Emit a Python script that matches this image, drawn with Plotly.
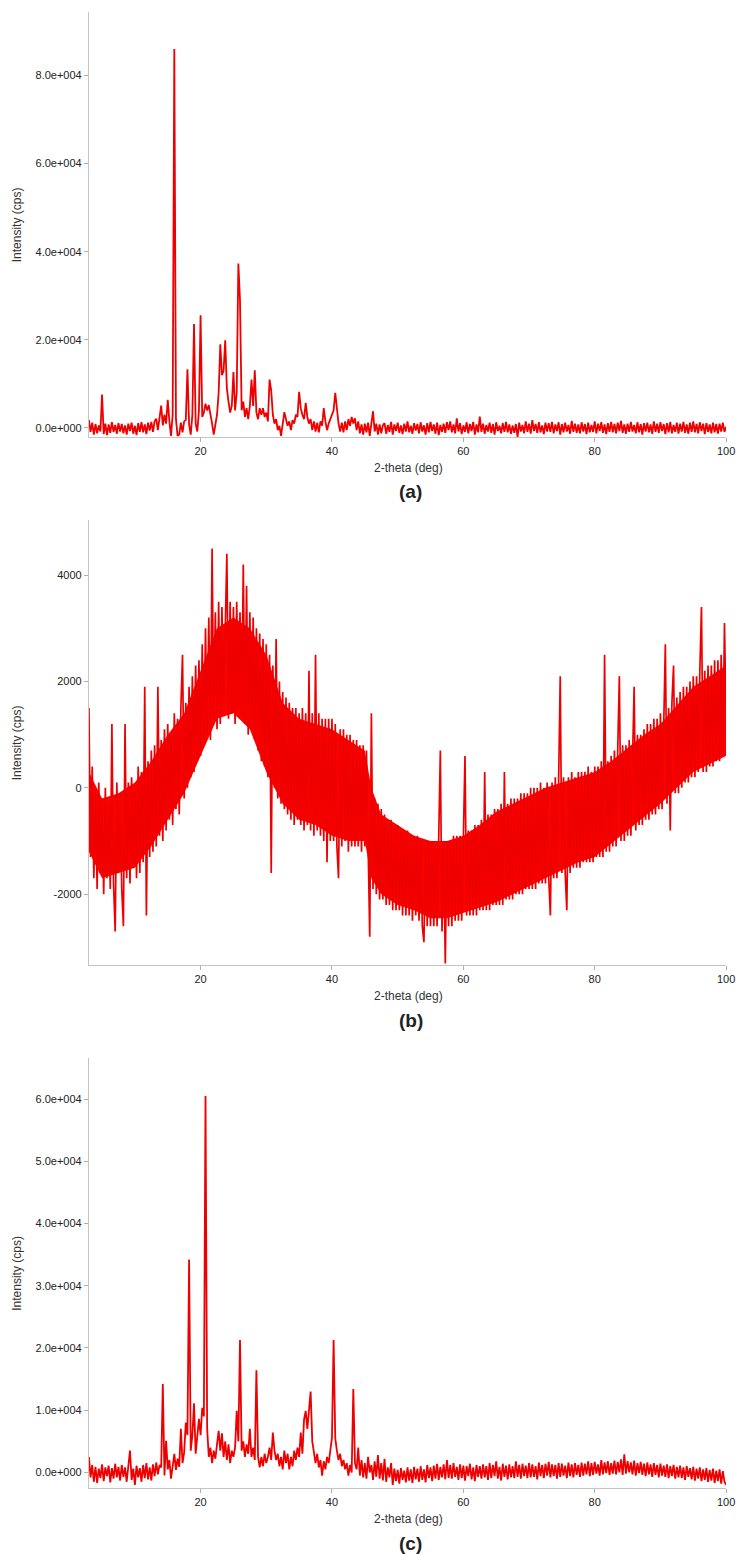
import plotly.graph_objects as go

# 2-theta sampling (deg), shared by the three scans
two_theta = [
    3.0, 3.25, 3.5, 3.75, 4.0, 4.25, 4.5, 4.75, 5.0, 5.25, 5.5, 5.75, 6.0, 6.25, 6.5, 6.75, 7.0, 7.25, 7.5, 7.75,
    8.0, 8.25, 8.5, 8.75, 9.0, 9.25, 9.5, 9.75, 10.0, 10.25, 10.5, 10.75, 11.0, 11.25, 11.5, 11.75, 12.0, 12.25, 12.5, 12.75,
    13.0, 13.25, 13.5, 13.75, 14.0, 14.25, 14.5, 14.75, 15.0, 15.25, 15.5, 15.75, 16.0, 16.25, 16.5, 16.75, 17.0, 17.25, 17.5, 17.75,
    18.0, 18.25, 18.5, 18.75, 19.0, 19.25, 19.5, 19.75, 20.0, 20.25, 20.5, 20.75, 21.0, 21.25, 21.5, 21.75, 22.0, 22.25, 22.5, 22.75,
    23.0, 23.25, 23.5, 23.75, 24.0, 24.25, 24.5, 24.75, 25.0, 25.25, 25.5, 25.75, 26.0, 26.25, 26.5, 26.75, 27.0, 27.25, 27.5, 27.75,
    28.0, 28.25, 28.5, 28.75, 29.0, 29.25, 29.5, 29.75, 30.0, 30.25, 30.5, 30.75, 31.0, 31.25, 31.5, 31.75, 32.0, 32.25, 32.5, 32.75,
    33.0, 33.25, 33.5, 33.75, 34.0, 34.25, 34.5, 34.75, 35.0, 35.25, 35.5, 35.75, 36.0, 36.25, 36.5, 36.75, 37.0, 37.25, 37.5, 37.75,
    38.0, 38.25, 38.5, 38.75, 39.0, 39.25, 39.5, 39.75, 40.0, 40.25, 40.5, 40.75, 41.0, 41.25, 41.5, 41.75, 42.0, 42.25, 42.5, 42.75,
    43.0, 43.25, 43.5, 43.75, 44.0, 44.25, 44.5, 44.75, 45.0, 45.25, 45.5, 45.75, 46.0, 46.25, 46.5, 46.75, 47.0, 47.25, 47.5, 47.75,
    48.0, 48.25, 48.5, 48.75, 49.0, 49.25, 49.5, 49.75, 50.0, 50.25, 50.5, 50.75, 51.0, 51.25, 51.5, 51.75, 52.0, 52.25, 52.5, 52.75,
    53.0, 53.25, 53.5, 53.75, 54.0, 54.25, 54.5, 54.75, 55.0, 55.25, 55.5, 55.75, 56.0, 56.25, 56.5, 56.75, 57.0, 57.25, 57.5, 57.75,
    58.0, 58.25, 58.5, 58.75, 59.0, 59.25, 59.5, 59.75, 60.0, 60.25, 60.5, 60.75, 61.0, 61.25, 61.5, 61.75, 62.0, 62.25, 62.5, 62.75,
    63.0, 63.25, 63.5, 63.75, 64.0, 64.25, 64.5, 64.75, 65.0, 65.25, 65.5, 65.75, 66.0, 66.25, 66.5, 66.75, 67.0, 67.25, 67.5, 67.75,
    68.0, 68.25, 68.5, 68.75, 69.0, 69.25, 69.5, 69.75, 70.0, 70.25, 70.5, 70.75, 71.0, 71.25, 71.5, 71.75, 72.0, 72.25, 72.5, 72.75,
    73.0, 73.25, 73.5, 73.75, 74.0, 74.25, 74.5, 74.75, 75.0, 75.25, 75.5, 75.75, 76.0, 76.25, 76.5, 76.75, 77.0, 77.25, 77.5, 77.75,
    78.0, 78.25, 78.5, 78.75, 79.0, 79.25, 79.5, 79.75, 80.0, 80.25, 80.5, 80.75, 81.0, 81.25, 81.5, 81.75, 82.0, 82.25, 82.5, 82.75,
    83.0, 83.25, 83.5, 83.75, 84.0, 84.25, 84.5, 84.75, 85.0, 85.25, 85.5, 85.75, 86.0, 86.25, 86.5, 86.75, 87.0, 87.25, 87.5, 87.75,
    88.0, 88.25, 88.5, 88.75, 89.0, 89.25, 89.5, 89.75, 90.0, 90.25, 90.5, 90.75, 91.0, 91.25, 91.5, 91.75, 92.0, 92.25, 92.5, 92.75,
    93.0, 93.25, 93.5, 93.75, 94.0, 94.25, 94.5, 94.75, 95.0, 95.25, 95.5, 95.75, 96.0, 96.25, 96.5, 96.75, 97.0, 97.25, 97.5, 97.75,
    98.0, 98.25, 98.5, 98.75, 99.0, 99.25, 99.5, 99.75, 100.0,
]

# (a) intensity (cps)
cps_a = [
    1800, -900, 1200, -1500, 900, -1200, 600, -800, 7600, -1400, 1000, -1600, 800, -1100, 1300, -900, 700, -1300, 1100, -800,
    900, -1200, 600, -1500, 1000, -700, 1200, -1300, 500, -1600, 1100, -900, 1300, -1000, 800, -1400, 1200, -600, 1400, -900,
    1500, 2100, -500, 1800, 5100, 600, 3000, 1000, 6400, 1500, -1800, 3000, 86000, 2000, -1800, -1500, 1200, -1000, 1500, 1800,
    13300, 800, -1500, 3000, 23600, 1000, -800, 4000, 25600, 2500, 3500, 5500, 4000, 5200, 2500, 1000, -1500, 500, 3000, 8000,
    19000, 12000, 13000, 19900, 9000, 6000, 3500, 5000, 12700, 4000, 8000, 37300, 29000, 4000, 6000, 2500, 4500, 2000, 5000, 11000,
    5000, 13100, 3500, 2000, 4500, 3000, 4500, 2500, 3500, 1500, 11000, 8500, 3000, 1000, 2000, -500, 500, -1800, 1500, 3600,
    2000, 500, 1500, -500, 1800, 1000, 3000, 2500, 8200, 4500, 3000, 2000, 5700, 2500, 1000, 2000, -500, 1500, -800, 1200,
    -1000, 1500, 500, 4500, 1500, -500, 1000, 2000, 3000, 4000, 8000, 3500, 1000, -800, 1200, -1000, 1500, -500, 2000, 500,
    2500, 1000, 2200, -500, 1500, -1200, 800, -1500, 1000, -1000, 1200, -1800, 900, 3800, -800, 1000, -1500, 800, -1200, 600,
    1100, -1300, 700, -900, 1400, -1500, 800, -700, 1200, -1100, 600, -1400, 1000, -800, 1500, -1000, 500, -1300, 1100, -600,
    900, -1200, 1300, -800, 600, -1500, 1100, -1000, 1400, -700, 800, -1300, 1200, -1600, 700, -900, 1000, -1100, 1300, -500,
    1500, -1000, 800, -1200, 2200, -800, 1100, -1400, 600, -900, 1300, -1200, 900, -700, 1400, -1500, 800, -1000, 2600, -900,
    1000, -1300, 700, -800, 1200, -1100, 900, -1500, 1300, -700, 500, -1200, 1100, -900, 1400, -1000, 800, -1300, 600, -1100,
    900, -2000, 1200, -800, 700, -1200, 1500, -900, 1000, -1300, 1800, -700, 900, -1100, 1300, -1000, 600, -1400, 1200, -800,
    1100, -900, 1400, -1200, 800, -700, 1300, -1500, 900, -1000, 1200, -800, 700, -1300, 1600, -900, 1000, -1100, 800, -1200,
    1300, -800, 900, -1400, 1200, -1000, 700, -900, 1500, -1200, 1000, -700, 1300, -1100, 800, -1400, 1100, -900, 1400, -1000,
    900, -1200, 1200, -700, 1600, -1100, 800, -1300, 1000, -900, 1400, -800, 700, -1200, 1300, -1000, 900, -1500, 1100, -800,
    1200, -1000, 800, -1300, 1500, -900, 1000, -1100, 1300, -700, 900, -1400, 1100, -1000, 1400, -1200, 700, -900, 1200, -1300,
    1000, -800, 1400, -1100, 800, -1300, 1200, -900, 1500, -1000, 900, -1200, 1300, -700, 1000, -1400, 1100, -900, 800, -1200,
    1200, -1000, 900, -1300, 1000, -800, 1200, -900, 300,
]

# (b) intensity (cps)
cps_b = [
    1500, -1300, 400, -1700, -100, -1900, 100, -1600, -200, -2000, 0, -1700, -300, -1900, 1200, -1800, -2700, 100, -1600, -100,
    -1900, -2600, 1200, -1700, 100, -1800, 200, -1500, 0, -1700, 400, -1600, 300, -1400, 1900, -2400, 500, -1300, 700, -1200,
    800, -1100, 1900, -900, 900, -1000, 1100, -800, 1200, -600, 1000, -700, 1400, -400, 1300, -500, 1500, 2500, -200, 1600,
    0, 1900, 200, 2100, 300, 2300, 500, 2400, 600, 2700, 800, 3000, 1000, 3200, 900, 4500, 1300, 3300, 1100, 3500,
    1200, 3400, 1500, 3300, 4400, 1300, 3500, 1400, 3400, 1200, 3500, 1500, 3300, 1300, 4200, 1200, 3800, 1000, 3300, 1100,
    3200, 900, 3000, 700, 2900, 500, 2800, 400, 2700, 200, 2500, -1600, 2300, 0, 2800, -200, 2000, -300, 1800, -400,
    1700, -500, 1600, -600, 1500, -700, 1500, -600, 1400, -700, 1500, -800, 1400, -700, 2200, -800, 1400, -900, 2500, -800,
    1400, -900, 1300, -1000, 1300, -1400, 1300, -1000, 1300, -1000, 1200, -1100, -1700, 1100, -1100, 1100, -1000, 1000, -1200, 1000,
    -1100, 900, -1100, 900, -1100, 800, -1200, 800, -1100, 700, -1300, -2800, 1400, -1900, -200, -2000, -300, -2100, -400, -2100,
    -500, -2200, -600, -2200, -600, -2300, -700, -2300, -700, -2300, -800, -2400, -800, -2400, -800, -2400, -900, -2500, -900, -2400,
    -900, -2500, -1000, -2600, -2900, -1000, -2600, -1000, -2600, -1000, -2600, -1100, -2600, -1000, 700, -2700, -1000, -3300, -1000, -2600,
    -1000, -2600, -900, -2500, -900, -2500, -900, -2500, -900, 600, -2400, -800, -2400, -800, -2400, -700, -2400, -700, -2300, -600,
    -2300, 300, -2300, -500, -2300, -500, -2200, -400, -2200, -400, -2200, -300, -2200, 300, -2100, -300, -2100, -200, -2100, -200,
    -2000, -200, -2000, -100, -2000, -100, -1900, -100, -1900, 0, -1900, 0, -1900, 0, -1800, 100, -1800, 0, -1800, 100,
    -1700, -2400, 100, -1700, 200, -1700, 100, 2100, -1600, 200, -1600, -2300, 200, -1600, 300, -1500, 200, -1500, 300, -1500,
    300, -1400, 300, -1400, 400, -1400, 300, -1400, 400, -1300, 400, -1300, 500, -1300, 2500, -1200, 500, -1200, 600, -1100,
    700, -1100, 700, 2100, -1000, 800, -1000, 800, -900, 900, -900, 900, 1900, -800, 1000, -700, 1000, -700, 1100, -600,
    1200, -600, 1200, -500, 1300, -500, 1300, -400, 1400, -400, 1400, 2700, -300, 1500, -800, 1600, 2300, -100, 1700, -100,
    1800, 0, 1900, 100, 1900, 100, 2000, 200, 2100, 200, 2100, 300, 2200, 3400, 300, 2200, 300, 2300, 400, 2300,
    400, 2400, 500, 2400, 500, 2500, 600, 3100, 1300,
]

# (b) solid core of the noise band (upper and lower edge of the fully red area)
core_theta_b = [3, 5, 7.5, 10, 12.5, 15, 17.5, 20, 22.5, 25, 27.5, 30, 32.5, 35, 37.5, 40, 42.5, 45, 46, 47.5,
                50, 52.5, 55, 57.5, 60, 62.5, 65, 67.5, 70, 72.5, 75, 77.5, 80, 82.5, 85, 87.5, 90, 92.5, 95, 97.5, 100]
core_top_b = [300, -200, -100, 100, 500, 1000, 1400, 2200, 3000, 3200, 3000, 2500, 1600, 1300, 1200, 1100, 900, 700, 0, -500,
              -700, -900, -1000, -1000, -900, -700, -450, -300, -150, 0, 100, 200, 300, 500, 750, 1000, 1200, 1550, 1900, 2100, 2300]
core_bottom_b = [-1200, -1700, -1600, -1500, -1100, -600, -100, 600, 1300, 1400, 1100, 300, -300, -600, -700, -900, -1000, -1000, -1700, -2000,
                 -2200, -2300, -2450, -2450, -2350, -2250, -2150, -2000, -1850, -1700, -1550, -1400, -1300, -1050, -800, -550, -300, 0, 300, 450, 600]

# (c) intensity (cps)
cps_c = [
    2500, -800, 1200, -1500, 900, -1700, 600, -900, 1300, -1400, 800, -600, 1100, -1600, 700, -1000, 1400, -800, 900, -1300,
    1200, -700, 800, -1500, 1000, 3500, -1200, 600, -2000, 1100, -800, 700, -1500, 1200, -900, 1500, -1100, 800, -1300, 1300,
    -600, 1600, -300, 1200, 800, 14200, -500, 5100, 500, 2000, -1000, 1500, 3000, 400, 2200, 900, 7000, 1500, 3200, 8000,
    6000, 34200, 3500, 6000, 11100, 3000, 5500, 8600, 6000, 10400, 9000, 60500, 7000, 2500, 4000, 1500, 3500, 2200, 4500, 6700,
    3500, 6300, 2500, 5000, 2000, 4500, 1500, 3500, 2500, 4000, 9900, 5000, 21300, 3500, 5000, 2500, 4500, 3000, 7000, 2500,
    4000, 2000, 16400, 2500, 800, 2500, 1000, 3000, 1500, 2500, 4000, 2000, 6400, 3500, 2000, 3000, 1000, 2500, 500, 3500,
    1500, 3000, 500, 2500, 1000, 3500, 2000, 4000, 2500, 6400, 3000, 8500, 9900, 7000, 10000, 13000, 5000, 3500, 1500, 3000,
    800, 2000, -500, 1800, 500, 2500, 1500, 3500, 5600, 21300, 5500, 3500, 2000, 3000, 1000, 2000, 500, 1500, -500, 1200,
    0, 13400, 1500, 500, 4000, -500, 2000, -800, 1500, -1000, 2500, 0, 1200, -1200, 1800, -700, 2800, -1000, 1500, -1300,
    2200, -1500, 800, -800, 1500, -2000, 600, -1400, 400, -1800, 700, -1200, 300, -1600, 800, -1300, 500, -1700, 900, -1100,
    600, -1500, 1000, -1200, 500, -1600, 1200, -900, 800, -1400, 1100, -1000, 1400, -1200, 900, -800, 1300, -1100, 2000, -900,
    1200, -1000, 1500, -700, 900, -1200, 1300, -900, 1100, -1300, 1000, -600, 1400, -1100, 800, -1400, 1200, -700, 1000, -1000,
    1300, -800, 1000, -1200, 1500, -900, 1200, -600, 1800, -1000, 900, -1300, 1400, -700, 1100, -1100, 1300, -800, 1000, -900,
    1800, -700, 1200, -1000, 1400, -600, 1100, -900, 1500, -800, 1300, -700, 1000, -1100, 1600, -600, 1200, -900, 1400, -500,
    1700, -800, 1300, -600, 1200, -1000, 1500, -700, 1400, -500, 1100, -900, 1600, -600, 1300, -800, 1500, -400, 1200, -700,
    1600, -500, 1400, -300, 1800, -600, 1500, -400, 1700, -200, 1300, -500, 2000, -300, 1600, -100, 1800, -400, 1500, -200,
    1900, -300, 1700, 0, 2100, -400, 2900, -200, 1800, 0, 1600, -300, 1900, -500, 1500, -100, 1700, -400, 1400, -600,
    1600, -300, 1300, -700, 1500, -400, 1200, -800, 1400, -500, 1100, -700, 1300, -900, 1000, -600, 1200, -1000, 900, -800,
    1100, -900, 800, -1200, 1000, -700, 700, -1100, 900, -1300, 600, -1000, 800, -1400, 500, -1200, 700, -1500, 400, -1300,
    600, -1700, 300, -1400, 500, -1800, 200, -1500, -2000,
]

assert len(two_theta) == len(cps_a) == len(cps_b) == len(cps_c), (
    len(two_theta), len(cps_a), len(cps_b), len(cps_c))
assert len(core_theta_b) == len(core_top_b) == len(core_bottom_b)

x_ticks = [20, 40, 60, 80, 100]
y_ticks_a = [0, 20000, 40000, 60000, 80000]
y_labels_a = ["0.0e+000", "2.0e+004", "4.0e+004", "6.0e+004", "8.0e+004"]
y_ticks_b = [-2000, 0, 2000, 4000]
y_labels_b = ["-2000", "0", "2000", "4000"]
y_ticks_c = [0, 10000, 20000, 30000, 40000, 50000, 60000]
y_labels_c = ["0.0e+000", "1.0e+004", "2.0e+004", "3.0e+004", "4.0e+004", "5.0e+004", "6.0e+004"]
panel_labels = ["(a)", "(b)", "(c)"]
x_title = "2-theta (deg)"
y_title = "Intensity (cps)"

W, H = 744, 1555
FONT = "Liberation Sans, Arial, sans-serif"
LINE = "#ee0000"
FILL = "#ff0000"
line_widths = [1.8, 1.7, 1.8]

fig = go.Figure()

# solid core of panel (b), drawn underneath its noisy trace
fig.add_trace(go.Scatter(
    x=core_theta_b, y=core_bottom_b, mode="lines", line=dict(width=0, color=FILL),
    xaxis="x2", yaxis="y2", hoverinfo="skip", showlegend=False))
fig.add_trace(go.Scatter(
    x=core_theta_b, y=core_top_b, mode="lines", line=dict(width=0, color=FILL),
    fill="tonexty", fillcolor=FILL,
    xaxis="x2", yaxis="y2", hoverinfo="skip", showlegend=False))

series = [cps_a, cps_b, cps_c]
for i, ys in enumerate(series):
    sfx = "" if i == 0 else str(i + 1)
    fig.add_trace(go.Scatter(
        x=two_theta, y=ys, mode="lines",
        line=dict(color=LINE, width=line_widths[i]),
        xaxis="x" + sfx, yaxis="y" + sfx,
        hoverinfo="skip", showlegend=False,
    ))

# panel pixel geometry: (top, bottom) of each plot area
panels = [(12, 437), (520, 965), (1058, 1488)]
y_ranges = [[-2045, 94400], [-3330, 5035], [-2500, 66600]]
y_ticks = [(y_ticks_a, y_labels_a), (y_ticks_b, y_labels_b), (y_ticks_c, y_labels_c)]
x_dom = [90 / W, 735 / W]

axis_common = dict(
    showline=True, linecolor="#c4c4c4", linewidth=1,
    showgrid=False, zeroline=False,
    ticks="outside", ticklen=4, tickcolor="#b0b0b0", tickwidth=1,
    tickfont=dict(family=FONT, size=11, color="#222222"),
    ticklabeloverflow="allow",
)

layout = dict(
    width=W, height=H,
    margin=dict(l=0, r=0, t=0, b=0),
    paper_bgcolor="white", plot_bgcolor="white",
    showlegend=False,
    font=dict(family=FONT),
)


def py(win_y):
    return (H - win_y) / H


def px(win_x):
    return win_x / W


annotations = []
for i, ((top, bot), yr, (tv, tt)) in enumerate(zip(panels, y_ranges, y_ticks)):
    sfx = "" if i == 0 else str(i + 1)
    layout["xaxis" + sfx] = dict(
        domain=x_dom, range=[3, 100], anchor="y" + sfx,
        tickvals=x_ticks, ticktext=[str(v) for v in x_ticks], **axis_common)
    layout["yaxis" + sfx] = dict(
        domain=[py(bot), py(top)], range=yr, anchor="x" + sfx,
        tickvals=tv, ticktext=tt, **axis_common)
    mid = (top + bot) / 2
    annotations.append(dict(
        x=px(17), y=py(mid), xref="paper", yref="paper",
        text=y_title, textangle=-90, showarrow=False,
        xanchor="center", yanchor="middle",
        font=dict(family=FONT, size=12, color="#333333")))
    annotations.append(dict(
        x=px(413), y=py(bot + 31), xref="paper", yref="paper",
        text=x_title, showarrow=False, xanchor="center", yanchor="middle",
        font=dict(family=FONT, size=12, color="#333333")))
    annotations.append(dict(
        x=px(416), y=py(bot + 55), xref="paper", yref="paper",
        text="<b>" + panel_labels[i] + "</b>", showarrow=False,
        xanchor="center", yanchor="middle",
        font=dict(family=FONT, size=19, color="#222222")))
layout["annotations"] = annotations

fig.update_layout(**layout)
# remove the browser's default 8 px body margin so the figure fills the window exactly
fig.write_html(
    "out.html",
    config={"displayModeBar": False},
    post_script="document.body.style.margin='0';document.body.style.overflow='hidden';",
)
